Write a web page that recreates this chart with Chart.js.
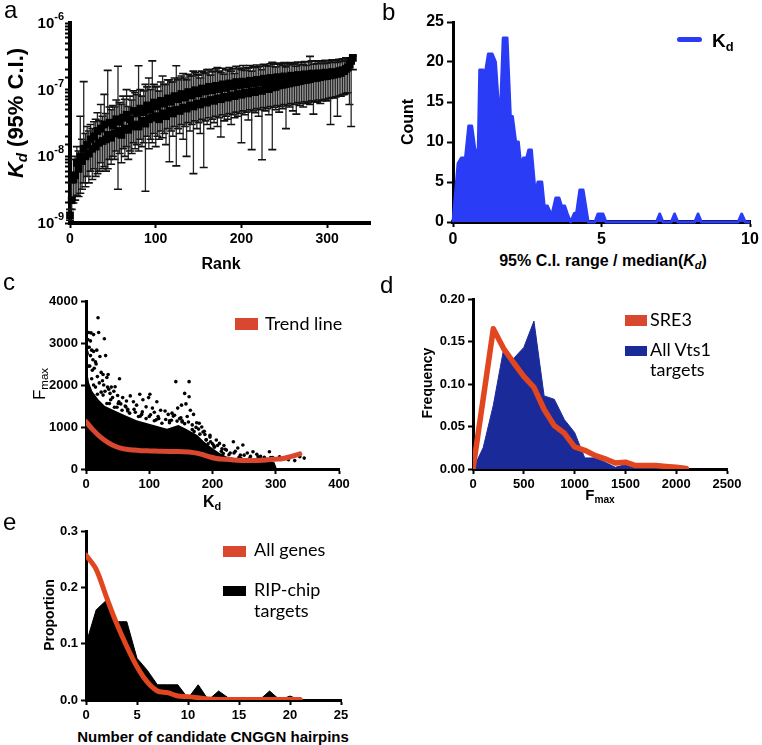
<!DOCTYPE html>
<html><head><meta charset="utf-8">
<script src="https://cdn.jsdelivr.net/npm/chart.js@4/dist/chart.umd.min.js"></script>
<style>
html,body{margin:0;padding:0;background:#fff;}
#wrap{position:relative;width:762px;height:745px;overflow:hidden;background:#fff;}
canvas{position:absolute;}
.t{position:absolute;white-space:nowrap;line-height:1;color:#000;font-family:"Liberation Sans",Arial,sans-serif;}
.b{font-weight:bold;}
.rot{transform:translate(-50%,-50%) rotate(-90deg);}
.ctr{transform:translateX(-50%);}
.lg{font-family:Lato,"Open Sans",sans-serif;}
.box{position:absolute;}
sub{font-size:0.68em;vertical-align:-0.28em;line-height:0;}
</style></head>
<body><div id="wrap">
<canvas id="ca" width="380" height="250" style="left:0;top:0"></canvas>
<canvas id="cb" width="382" height="250" style="left:380px;top:0"></canvas>
<canvas id="cc" width="380" height="210" style="left:0;top:285px"></canvas>
<canvas id="cd" width="382" height="210" style="left:380px;top:285px"></canvas>
<canvas id="ce" width="380" height="211" style="left:0;top:515px"></canvas>

<div class="t" style="left:4px;top:-2px;font-size:24px">a</div>
<div class="t" style="left:382px;top:0px;font-size:24px">b</div>
<div class="t" style="left:3px;top:270px;font-size:24px">c</div>
<div class="t" style="left:380px;top:273px;font-size:24px">d</div>
<div class="t" style="left:3px;top:510px;font-size:24px">e</div>

<div class="t b rot" style="left:16px;top:113px;font-size:22px"><i>K<sub>d</sub></i> (95% C.I.)</div>
<div class="t b ctr" style="left:221px;top:256px;font-size:16px">Rank</div>

<div class="t b rot" style="left:408px;top:122px;font-size:16px">Count</div>
<div class="t b ctr" style="left:603px;top:253px;font-size:16px">95% C.I. range / median(<i>K<sub>d</sub></i>)</div>
<div class="box" style="left:677px;top:37px;width:25px;height:5px;border-radius:3px;background:#2b3cf6"></div>
<div class="t b" style="left:712px;top:31px;font-size:19px">K<sub>d</sub></div>

<div class="box" style="left:235px;top:318px;width:23px;height:12px;background:#d9472f"></div>
<div class="t lg" style="left:265px;top:314px;font-size:18px">Trend line</div>
<div class="t rot" style="left:39px;top:384px;font-size:17px">F<sub>max</sub></div>
<div class="t b ctr" style="left:212px;top:494px;font-size:16px">K<sub>d</sub></div>

<div class="box" style="left:625px;top:315px;width:22px;height:11px;background:#d9472f"></div>
<div class="t lg" style="left:650px;top:310px;font-size:18px">SRE3</div>
<div class="box" style="left:625px;top:346px;width:22px;height:10px;background:#1b2a99"></div>
<div class="t lg" style="left:650px;top:340px;font-size:18px">All Vts1</div>
<div class="t lg" style="left:650px;top:360px;font-size:18px">targets</div>
<div class="t b rot" style="left:427px;top:383px;font-size:14px">Frequency</div>
<div class="t b ctr" style="left:600px;top:487px;font-size:15px">F<sub>max</sub></div>

<div class="box" style="left:223px;top:546px;width:23px;height:11px;background:#d9472f"></div>
<div class="t lg" style="left:254px;top:540px;font-size:18px">All genes</div>
<div class="box" style="left:223px;top:586px;width:23px;height:10px;background:#000"></div>
<div class="t lg" style="left:254px;top:580px;font-size:18px">RIP-chip</div>
<div class="t lg" style="left:254px;top:601px;font-size:18px">targets</div>
<div class="t b rot" style="left:49px;top:615px;font-size:14px">Proportion</div>
<div class="t b ctr" style="left:213px;top:729px;font-size:15px">Number of candidate CNGGN hairpins</div>
</div>
<script>
// ---------- Panel a : Kd (nM) by rank with 95% C.I. (ranks 0..330, every 2nd) ----------
const aRank=[0,2,4,6,8,10,12,14,16,18,20,22,24,26,28,30,32,34,36,38,40,42,44,46,48,50,52,54,56,58,60,62,64,66,68,70,72,74,76,78,80,82,84,86,88,90,92,94,96,98,100,102,104,106,108,110,112,114,116,118,120,122,124,126,128,130,132,134,136,138,140,142,144,146,148,150,152,154,156,158,160,162,164,166,168,170,172,174,176,178,180,182,184,186,188,190,192,194,196,198,200,202,204,206,208,210,212,214,216,218,220,222,224,226,228,230,232,234,236,238,240,242,244,246,248,250,252,254,256,258,260,262,264,266,268,270,272,274,276,278,280,282,284,286,288,290,292,294,296,298,300,302,304,306,308,310,312,314,316,318,320,322,324,326,328,330];
const aKdMid=[1.3,2.2,4.5,5.2,8,6.5,10,8.5,13,10,15,11,18,13,20,14,24,16,26,17,30,18,21,32,19,29,22,36,24,33,21,38,26,42,25,36,28,48,30,44,28,52,34,46,31,58,36,50,38,64,40,56,36,68,44,62,40,74,48,66,44,80,50,72,48,86,54,76,52,92,58,82,56,98,62,88,60,104,66,94,64,110,70,98,68,114,74,102,72,120,78,106,76,124,82,112,80,130,86,116,84,132,90,120,88,136,94,124,92,140,98,130,96,146,104,134,102,150,108,140,110,154,116,146,118,158,122,150,124,162,128,154,130,166,134,158,138,170,140,162,144,174,148,166,150,176,154,170,158,180,160,174,164,184,168,180,172,190,178,196,190,205,215,240,270,300];
const aKdLow=[1.1,1.6,2.0,2.2,2.6,2.5,2.8,3.2,4,3.5,5,4,6,4.5,6.5,5,5.5,6,8,6.5,7,6,6.5,9,7.6,10,9,12,3.2,11,8,13,10,14,9,12,11,16,13,15,12,18,14,16,3.0,20,13,18,16,22,14,20,18,24,19,22,15,26,8.3,24,20,28,7.2,26,22,30,18,28,10,32,24,30,5.5,34,26,32,22,36,6.8,34,30,38,26,36,32,40,28,38,19.5,42,34,40,36,44,30,42,38,46,40,44,16,48,42,46,35,50,12.6,48,45,52,40,50,8.9,54,48,52,42,56,12.6,54,50,58,46,56,52,60,26,58,55,62,48,60,43,64,58,62,55,66,62,64,60,68,43,66,65,70,62,68,70,72,68,74,30,76,75,78,40,80,80,84,85,88,90,60,28,200];
const aKdHigh=[1.6,4,9,10,14,12,40,18,132,22,28,24,30,26,33,36,45,34,60,40,85,44,195,55,50,58,55,70,224,64,60,80,72,100,56,80,70,96,90,84,229,100,80,96,120,110,150,100,270,120,110,112,95,130,160,120,120,140,140,130,130,150,229,140,150,160,175,150,140,170,160,160,190,180,170,165,150,190,180,175,200,200,165,185,190,205,214,190,180,210,170,200,200,215,190,205,175,225,210,210,200,230,195,215,210,230,190,220,215,235,220,225,200,240,230,230,225,245,257,240,220,250,240,245,230,255,220,245,235,255,240,250,224,260,235,255,240,265,230,260,316,270,240,265,245,270,250,265,245,275,250,270,255,280,260,275,255,285,265,290,270,300,290,300,300,320];
const aXTicks=[0,100,200,300];
const aYTickValues=[1,10,100,1000];
const aYTickBase='10';
const aYTickExp=['-9','-8','-7','-6'];

// ---------- Panel b : histogram of C.I. range / median ----------
const bX=[0,0.17,0.28,0.42,0.53,0.63,0.74,0.85,0.9,1.01,1.07,1.19,1.32,1.43,1.54,1.6,1.69,1.82,1.93,2.0,2.11,2.2,2.29,2.37,2.48,2.55,2.64,2.77,2.86,2.99,3.07,3.18,3.27,3.35,3.46,3.57,3.65,3.76,3.85,3.96,4.09,4.16,4.27,4.38,4.55,4.78,4.88,5.05,5.15,6.85,6.96,7.07,7.35,7.46,7.57,8.14,8.25,8.36,9.6,9.72,9.84,10];
const bCount=[0,7.3,8,8,12,12,9,9,19,19,18.2,21,21,20,14,14,23,23,13.3,13.2,10,10,6.8,8,8,9,9,3.5,5,5,2,2,1.2,1.2,3,3,2,2,1,0,1.1,1.1,4,4,0,0,1,1,0,0,1,0,0,1,0,0,1,0,0,1,0,0];
const bXTicks=[0,5,10];
const bYTicks=[0,5,10,15,20,25];

// ---------- Panel c : Fmax vs Kd scatter ----------
const cCoreX=[0,2,5,10,20,30,47,60,80,104,128,146,158,176,186,198,210,222,238,252,268,288,298,302];
const cCoreTop=[2300,2300,2050,1850,1650,1500,1380,1290,1160,1060,960,1050,960,810,660,520,390,300,250,210,190,180,160,0];
const cDots=[[19,3600],[4,3250],[8,3240],[12,3200],[20,3250],[3,3080],[7,3050],[29,3100],[5,2900],[9,2830],[17,2830],[22,2680],[31,2700],[2,2750],[11,2600],[15,2550],[6,2450],[13,2400],[24,2300],[35,2250],[33,2180],[26,2100],[53,2150],[46,1960],[40,1950],[28,2000],[36,1900],[18,2200],[10,2350],[21,2050],[30,1850],[38,1800],[44,1850],[50,1750],[70,1740],[85,1780],[101,1780],[99,1700],[112,1600],[58,1700],[64,1620],[75,1600],[90,1650],[55,1550],[62,1500],[80,1520],[95,1480],[105,1450],[118,1400],[125,1380],[108,1350],[130,1300],[136,1330],[140,1280],[142,2080],[163,2080],[156,1800],[163,1720],[151,1520],[145,1450],[158,1550],[165,1400],[170,1300],[160,1250],[148,1200],[175,1100],[179,1090],[183,1000],[187,900],[190,690],[196,800],[206,690],[211,610],[200,600],[218,560],[222,450],[233,650],[240,500],[248,570],[255,380],[264,410],[270,350],[276,300],[282,280],[290,410],[295,270],[306,290],[310,250],[320,220],[338,290],[330,200],[345,260],[260,300],[244,330],[236,420],[228,380],[215,480],[203,520],[197,650],[188,820],[178,950],[168,1050],[152,1150],[132,1150],[115,1200],[100,1250],[88,1300],[78,1350],[66,1420],[52,1600],[42,1700],[34,1950],[27,2250],[16,2500],[12,2800],[7,2700],[3,2900],[1,2800],
[12,2000],[18,1780],[27,1760],[33,1560],[39,1650],[45,1470],[51,1560],[57,1400],[63,1480],[69,1330],[76,1420],[83,1250],[89,1360],[95,1200],[102,1290],[108,1150],[114,1250],[120,1090],[126,1180],[132,1100],[138,1260],[144,1140],[150,1220],[156,1080],[162,1120],[168,940],[174,990],[180,830],[185,880],[190,700],[196,760],[202,560],[208,560],[214,420],[220,470],[226,340],[234,380],[242,280],[250,330],[258,240],[272,290],[284,220],[292,270],
[4,2450],[9,2150],[15,1950],[24,1830],[37,1560],[49,1470],[66,1380],[86,1260],[111,1170],[135,1160],[152,1120],[171,890],[193,600],[217,370],[245,250],[279,215]];
const cTrendX=[0,10,22,35,48,60,75,90,101,120,140,154,170,180,193,206,220,233,246,259,272,285,298,312,325,338];
const cTrendY=[1130,950,770,630,530,480,450,435,430,420,415,410,390,360,300,250,230,215,205,200,205,215,230,250,300,360];
const cXTicks=[0,100,200,300,400];
const cYTicks=[0,1000,2000,3000,4000];

// ---------- Panel d : Fmax frequency ----------
const dBinX=[0,100,200,300,400,500,600,700,800,900,1000,1100,1200,1300,1400,1500,1600,1700,1800,1900,2000];
const dAllVts1=[0,0.025,0.075,0.14,0.13,0.143,0.174,0.086,0.082,0.058,0.043,0.013,0.013,0.008,0.002,0.005,0.002,0.001,0.001,0,0];
const dSreX=[0,200,300,400,500,600,700,800,900,1000,1100,1200,1300,1400,1500,1600,1700,1800,1900,2000,2100];
const dSre3=[0,0.165,0.142,0.125,0.109,0.096,0.07,0.051,0.042,0.026,0.022,0.016,0.012,0.007,0.008,0.004,0.004,0.004,0.003,0.002,0.0005];
const dXTicks=[0,500,1000,1500,2000,2500];
const dYTicks=[0,0.05,0.10,0.15,0.20];
const dYTickLabels=['0.00','0.05','0.10','0.15','0.20'];

// ---------- Panel e : CNGGN hairpins ----------
const eX=[0,1,2,3,4,5,6,7,8,9,10,11,12,13,14,15,16,17,18,19,20,21];
const eRipChip=[0.1,0.16,0.177,0.139,0.139,0.074,0.053,0.027,0.027,0.027,0.003,0.027,0,0.016,0.003,0.003,0.003,0,0.016,0,0.007,0];
const eAllGenes=[0.257,0.232,0.183,0.136,0.095,0.059,0.032,0.016,0.013,0.007,0.006,0.004,0.002,0.001,0.001,0.001,0.001,0.001,0.001,0.001,0.001,0.001];
const eXTicks=[0,5,10,15,20,25];
const eYTicks=[0,0.1,0.2,0.3];
const eYTickLabels=['0.0','0.1','0.2','0.3'];

// ---------- helpers ----------
const FONT='"Liberation Sans", Arial, "DejaVu Sans", sans-serif';
const RED='#e2461f';
function pts(xs,ys){return xs.map((x,i)=>({x:x,y:ys[i]}));}
function axis(o){
  const a={
    type:o.type||'linear', position:o.pos, min:o.min, max:o.max,
    afterFit(s){ if(o.pos==='left') s.width=o.size; else s.height=o.size; },
    ticks:{autoSkip:false,maxRotation:0,minRotation:0,color:'#000',padding:o.pad==null?3:o.pad,
      font:{family:FONT,weight:'bold',size:o.fs}},
    grid:{drawOnChartArea:false,drawTicks:true,tickLength:o.tl||6,tickWidth:2,tickColor:'#000',color:'#000'},
    border:{display:true,color:'#000',width:o.bw||3}
  };
  if(o.ticks){
    a.afterBuildTicks=(s)=>{s.ticks=o.ticks.map(v=>({value:v}));};
    a.ticks.callback=o.labels?((v,i)=>o.labels[i]):((v)=>String(v));
  }
  return a;
}
function baseOpts(pad,scales){
  return {responsive:false,animation:false,events:[],
    layout:{padding:pad},
    plugins:{legend:{display:false},tooltip:{enabled:false}},
    scales:scales};
}

// ---------- a ----------
const errBars={id:'errBars',beforeDatasetsDraw(chart){
  const ctx=chart.ctx,xs=chart.scales.x,ys=chart.scales.y;
  ctx.save();
  for(let i=0;i<aRank.length;i++){
    const x=xs.getPixelForValue(aRank[i]);
    const y1=ys.getPixelForValue(aKdLow[i]),y2=ys.getPixelForValue(aKdHigh[i]);
    ctx.strokeStyle='#262626';ctx.lineWidth=1.3;
    ctx.beginPath();ctx.moveTo(x,y1);ctx.lineTo(x,y2);ctx.stroke();
    ctx.strokeStyle='#111';ctx.lineWidth=1.6;
    ctx.beginPath();ctx.moveTo(x-4,y1);ctx.lineTo(x+4,y1);ctx.moveTo(x-4,y2);ctx.lineTo(x+4,y2);ctx.stroke();
  }
  ctx.restore();
}};
const logLabels={id:'logLabels',afterDraw(chart){
  const ctx=chart.ctx,ys=chart.scales.y;
  ctx.save();ctx.fillStyle='#000';ctx.textBaseline='middle';ctx.textAlign='left';
  aYTickValues.forEach((v,i)=>{
    const y=ys.getPixelForValue(v);
    ctx.font='bold 11px '+FONT;
    const sw=ctx.measureText(aYTickExp[i]).width;
    ctx.font='bold 15px '+FONT;
    const bw=ctx.measureText(aYTickBase).width;
    const right=ys.right-6;
    ctx.fillText(aYTickBase,right-sw-bw,y+1);
    ctx.font='bold 11px '+FONT;
    ctx.fillText(aYTickExp[i],right-sw,y-6);
  });
  ctx.restore();
}};
new Chart(document.getElementById('ca'),{
  type:'scatter',
  data:{datasets:[{data:pts(aRank,aKdMid),pointStyle:'rect',pointRadius:5.5,backgroundColor:'#000',borderColor:'#000',borderWidth:0,clip:false}]},
  options:baseOpts({top:23,right:10,left:0,bottom:0},{
    x:axis({pos:'bottom',min:0,max:350,size:27,fs:14,ticks:aXTicks,tl:5,bw:4}),
    y:Object.assign(axis({type:'logarithmic',pos:'left',min:1,max:1000,size:70,fs:14,tl:5,bw:4}),{
      ticks:{autoSkip:false,color:'#000',padding:2,font:{family:FONT,weight:'bold',size:14},callback:()=>''}
    })
  }),
  plugins:[errBars,logLabels]
});

// ---------- b ----------
new Chart(document.getElementById('cb'),{
  type:'line',
  data:{datasets:[{data:pts(bX,bCount),borderColor:'#2b3cf6',backgroundColor:'#2b3cf6',borderWidth:3,fill:'origin',pointRadius:0,tension:0,borderJoinStyle:'round',clip:false}]},
  options:baseOpts({top:22,right:12,left:0,bottom:0},{
    x:axis({pos:'bottom',min:0,max:10,size:28,fs:16,ticks:bXTicks,tl:5,bw:4}),
    y:axis({pos:'left',min:0,max:25,size:73,fs:16,ticks:bYTicks,tl:6,bw:3})
  })
});

// ---------- c ----------
new Chart(document.getElementById('cc'),{
  type:'scatter',
  data:{datasets:[
    {type:'line',order:0,data:pts(cTrendX,cTrendY),borderColor:'#d9472f',borderWidth:5,pointRadius:0,tension:0.4,fill:false,borderCapStyle:'round'},
    {type:'scatter',order:1,data:cDots.map(p=>({x:p[0],y:p[1]})),pointRadius:1.8,backgroundColor:'#000',borderWidth:0},
    {type:'line',order:2,data:pts(cCoreX,cCoreTop),borderWidth:0,borderColor:'#000',backgroundColor:'#000',fill:'origin',pointRadius:0,tension:0}
  ]},
  options:baseOpts({top:16,right:41,left:0,bottom:0},{
    x:axis({pos:'bottom',min:0,max:400,size:26,fs:13,ticks:cXTicks,tl:5}),
    y:axis({pos:'left',min:0,max:4000,size:86,fs:13,ticks:cYTicks,tl:5})
  })
});

// ---------- d ----------
new Chart(document.getElementById('cd'),{
  type:'line',
  data:{datasets:[
    {order:0,data:pts(dSreX,dSre3),borderColor:RED,borderWidth:5.5,pointRadius:0,tension:0,fill:false,borderJoinStyle:'round',borderCapStyle:'round'},
    {order:1,data:pts(dBinX,dAllVts1),borderColor:'#1b2a99',backgroundColor:'#1b2a99',borderWidth:1,pointRadius:0,tension:0,fill:'origin'}
  ]},
  options:baseOpts({top:14,right:35,left:0,bottom:0},{
    x:axis({pos:'bottom',min:0,max:2500,size:26,fs:13,ticks:dXTicks,tl:5}),
    y:axis({pos:'left',min:0,max:0.2,size:93,fs:13,ticks:dYTicks,labels:dYTickLabels,tl:5})
  })
});

// ---------- e ----------
new Chart(document.getElementById('ce'),{
  type:'line',
  data:{datasets:[
    {order:0,data:pts(eX,eAllGenes),borderColor:RED,borderWidth:5,pointRadius:0,tension:0.3,fill:false,borderJoinStyle:'round',borderCapStyle:'round'},
    {order:1,data:pts(eX,eRipChip),borderColor:'#000',backgroundColor:'#000',borderWidth:1,pointRadius:0,tension:0,fill:'origin'}
  ]},
  options:baseOpts({top:16,right:39,left:0,bottom:0},{
    x:axis({pos:'bottom',min:0,max:25,size:26,fs:13,ticks:eXTicks,tl:5}),
    y:axis({pos:'left',min:0,max:0.3,size:86,fs:13,ticks:eYTicks,labels:eYTickLabels,tl:5})
  })
});
</script>
</body></html>
